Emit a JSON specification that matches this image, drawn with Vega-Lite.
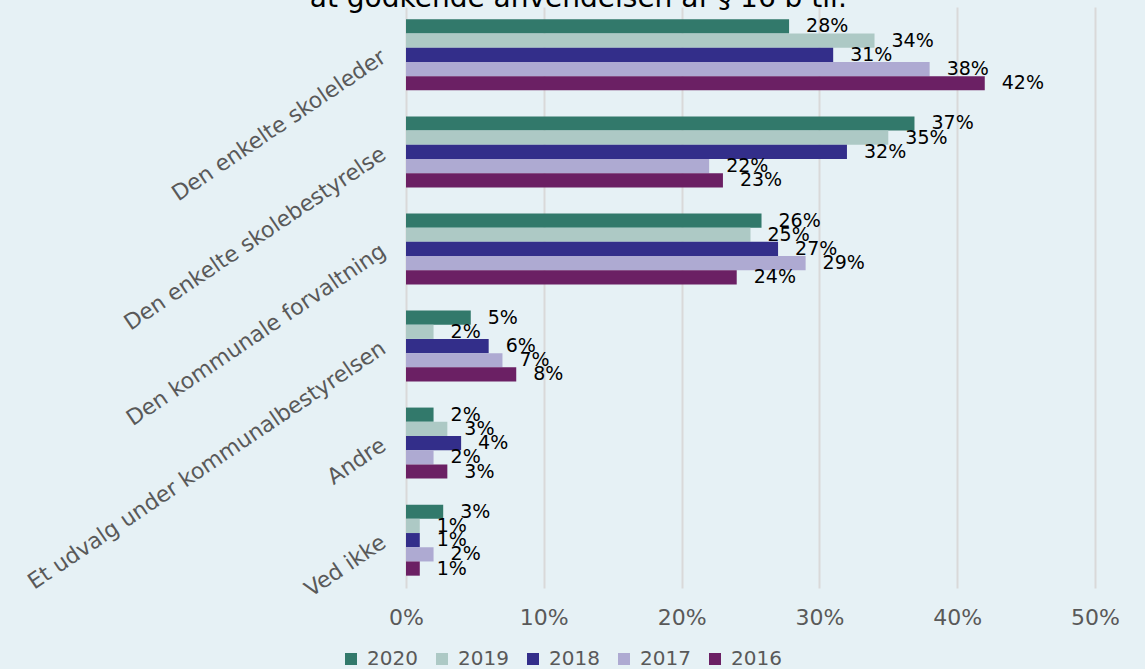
{
  "$schema": "https://vega.github.io/schema/vega-lite/v6.json",
  "autosize": "none",
  "width": 689,
  "height": 581,
  "padding": {"left": 406, "top": 7, "right": 50, "bottom": 81},
  "background": "#e6f1f5",
  "title": {
    "text": "at godkende anvendelsen af § 16 b til:",
    "font": "DejaVu Sans",
    "fontSize": 28,
    "fontWeight": "normal",
    "color": "#000000",
    "anchor": "middle",
    "baseline": "alphabetic",
    "offset": 0,
    "dx": -172,
    "dy": 28
  },
  "config": {
    "view": {"stroke": null},
    "font": "DejaVu Sans"
  },
  "data": {
    "values": [
      {"cat": "Den enkelte skoleleder", "year": "2020", "value": 0.278},
      {"cat": "Den enkelte skoleleder", "year": "2019", "value": 0.34},
      {"cat": "Den enkelte skoleleder", "year": "2018", "value": 0.31},
      {"cat": "Den enkelte skoleleder", "year": "2017", "value": 0.38},
      {"cat": "Den enkelte skoleleder", "year": "2016", "value": 0.42},
      {"cat": "Den enkelte skolebestyrelse", "year": "2020", "value": 0.369},
      {"cat": "Den enkelte skolebestyrelse", "year": "2019", "value": 0.35},
      {"cat": "Den enkelte skolebestyrelse", "year": "2018", "value": 0.32},
      {"cat": "Den enkelte skolebestyrelse", "year": "2017", "value": 0.22},
      {"cat": "Den enkelte skolebestyrelse", "year": "2016", "value": 0.23},
      {"cat": "Den kommunale forvaltning", "year": "2020", "value": 0.258},
      {"cat": "Den kommunale forvaltning", "year": "2019", "value": 0.25},
      {"cat": "Den kommunale forvaltning", "year": "2018", "value": 0.27},
      {"cat": "Den kommunale forvaltning", "year": "2017", "value": 0.29},
      {"cat": "Den kommunale forvaltning", "year": "2016", "value": 0.24},
      {"cat": "Et udvalg under kommunalbestyrelsen", "year": "2020", "value": 0.047},
      {"cat": "Et udvalg under kommunalbestyrelsen", "year": "2019", "value": 0.02},
      {"cat": "Et udvalg under kommunalbestyrelsen", "year": "2018", "value": 0.06},
      {"cat": "Et udvalg under kommunalbestyrelsen", "year": "2017", "value": 0.07},
      {"cat": "Et udvalg under kommunalbestyrelsen", "year": "2016", "value": 0.08},
      {"cat": "Andre", "year": "2020", "value": 0.02},
      {"cat": "Andre", "year": "2019", "value": 0.03},
      {"cat": "Andre", "year": "2018", "value": 0.04},
      {"cat": "Andre", "year": "2017", "value": 0.02},
      {"cat": "Andre", "year": "2016", "value": 0.03},
      {"cat": "Ved ikke", "year": "2020", "value": 0.027},
      {"cat": "Ved ikke", "year": "2019", "value": 0.01},
      {"cat": "Ved ikke", "year": "2018", "value": 0.01},
      {"cat": "Ved ikke", "year": "2017", "value": 0.02},
      {"cat": "Ved ikke", "year": "2016", "value": 0.01}
    ]
  },
  "encoding": {
    "y": {
      "field": "cat",
      "type": "nominal",
      "sort": null,
      "scale": {"paddingInner": 0.268, "paddingOuter": 0.127},
      "axis": {
        "title": null,
        "domain": false,
        "ticks": false,
        "grid": false,
        "labelAngle": -34,
        "labelAlign": "right",
        "labelBaseline": "middle",
        "labelFontSize": 22,
        "labelColor": "#595959",
        "labelPadding": 23,
        "labelLimit": 600
      }
    },
    "yOffset": {
      "field": "year",
      "type": "nominal",
      "sort": ["2020", "2019", "2018", "2017", "2016"],
      "scale": {"paddingInner": 0, "paddingOuter": 0}
    },
    "x": {
      "field": "value",
      "type": "quantitative",
      "scale": {"domain": [0, 0.5], "nice": false},
      "axis": {
        "title": null,
        "values": [0, 0.1, 0.2, 0.3, 0.4, 0.5],
        "format": ".0%",
        "domain": false,
        "ticks": false,
        "grid": true,
        "gridColor": "#d9d9d9",
        "gridWidth": 2,
        "labelFlush": false,
        "labelFontSize": 22,
        "labelColor": "#595959",
        "labelPadding": 19
      }
    }
  },
  "layer": [
    {
      "mark": {"type": "bar"},
      "encoding": {
        "color": {
          "field": "year",
          "type": "nominal",
          "scale": {
            "domain": ["2020", "2019", "2018", "2017", "2016"],
            "range": ["#32796b", "#adc9c5", "#332e8a", "#aeaad2", "#6b2064"]
          },
          "legend": {
            "title": null,
            "orient": "none",
            "direction": "horizontal",
            "legendX": -65,
            "legendY": 642,
            "symbolType": "square",
            "symbolSize": 144,
            "symbolStrokeWidth": 0,
            "labelFontSize": 20,
            "labelColor": "#595959",
            "labelOffset": 6,
            "columnPadding": 14
          }
        }
      }
    },
    {
      "mark": {"type": "text", "align": "left", "baseline": "middle", "dx": 17, "fontSize": 19, "color": "#000000"},
      "encoding": {
        "text": {"field": "value", "type": "quantitative", "format": ".0%"}
      }
    }
  ]
}
